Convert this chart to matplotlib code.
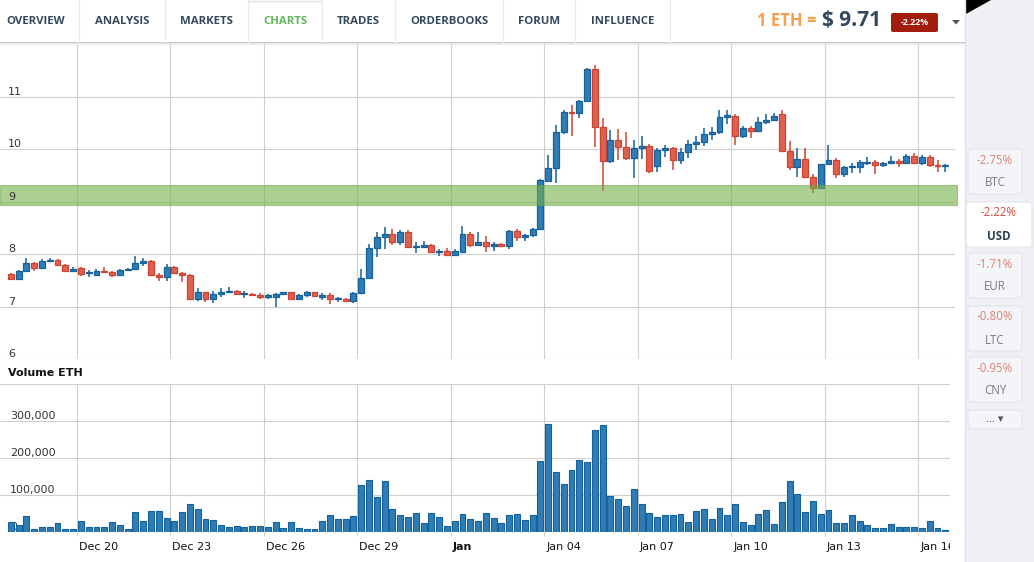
import numpy as np
import matplotlib
matplotlib.use('Agg')
import matplotlib.pyplot as plt
import matplotlib.transforms as mtrans
from matplotlib.patches import Rectangle, Polygon, FancyBboxPatch

W, H = 1034, 562

# 6h candles, ETH/USD, 2016-12-17 18:00 .. 2017-01-16 18:00
opens = [7.62, 7.53, 7.67, 7.83, 7.74, 7.86, 7.89, 7.79, 7.68, 7.73,
         7.63, 7.60, 7.68, 7.65, 7.60, 7.69, 7.71, 7.83, 7.87, 7.60,
         7.56, 7.75, 7.64, 7.60, 7.15, 7.27, 7.15, 7.23, 7.27, 7.29,
         7.23, 7.24, 7.22, 7.19, 7.19, 7.24, 7.27, 7.15, 7.21, 7.27,
         7.19, 7.21, 7.14, 7.15, 7.10, 7.26, 7.55, 8.11, 8.32, 8.39,
         8.22, 8.41, 8.14, 8.14, 8.17, 8.04, 8.05, 7.99, 8.04, 8.39,
         8.18, 8.22, 8.16, 8.19, 8.16, 8.43, 8.33, 8.37, 8.47, 9.40,
         9.63, 10.33, 10.71, 10.69, 10.92, 11.52, 10.42, 9.77, 10.17, 10.04,
         9.83, 10.02, 10.06, 9.67, 9.98, 10.02, 9.79, 9.94, 10.10, 10.14,
         10.29, 10.33, 10.61, 10.63, 10.24, 10.40, 10.35, 10.52, 10.56, 10.67,
         9.96, 9.66, 9.80, 9.46, 9.25, 9.71, 9.79, 9.52, 9.65, 9.65,
         9.74, 9.75, 9.69, 9.73, 9.77, 9.73, 9.87, 9.73, 9.85, 9.69,
         9.67]
highs = [7.63, 7.69, 7.92, 7.85, 7.90, 7.92, 7.90, 7.81, 7.76, 7.76,
         7.69, 7.71, 7.75, 7.67, 7.71, 7.74, 7.97, 7.92, 7.89, 7.63,
         7.81, 7.78, 7.66, 7.61, 7.35, 7.28, 7.30, 7.35, 7.38, 7.31,
         7.30, 7.26, 7.25, 7.24, 7.26, 7.28, 7.28, 7.24, 7.29, 7.28,
         7.26, 7.26, 7.19, 7.17, 7.28, 7.71, 8.20, 8.41, 8.51, 8.47,
         8.45, 8.45, 8.22, 8.24, 8.20, 8.10, 8.11, 8.09, 8.54, 8.42,
         8.41, 8.34, 8.22, 8.21, 8.46, 8.47, 8.39, 8.50, 9.42, 9.88,
         10.45, 10.75, 10.83, 10.94, 11.54, 11.60, 10.60, 10.37, 10.38, 10.33,
         10.17, 10.24, 10.10, 10.02, 10.08, 10.03, 10.01, 10.17, 10.25, 10.40,
         10.42, 10.74, 10.74, 10.67, 10.43, 10.43, 10.61, 10.67, 10.69, 10.75,
         10.15, 10.02, 10.02, 9.52, 9.72, 10.08, 9.83, 9.68, 9.74, 9.79,
         9.85, 9.79, 9.75, 9.87, 9.81, 9.90, 9.92, 9.89, 9.89, 9.79,
         9.72]
lows = [7.52, 7.52, 7.66, 7.68, 7.72, 7.84, 7.78, 7.65, 7.66, 7.58,
        7.56, 7.58, 7.63, 7.57, 7.59, 7.67, 7.69, 7.78, 7.58, 7.48,
        7.49, 7.63, 7.46, 7.13, 7.11, 7.09, 7.06, 7.19, 7.26, 7.21,
        7.17, 7.20, 7.15, 7.15, 7.00, 7.21, 7.13, 7.13, 7.19, 7.19,
        7.13, 7.04, 7.09, 7.09, 7.06, 7.23, 7.53, 7.95, 8.09, 8.18,
        8.18, 8.13, 8.01, 8.13, 8.01, 7.97, 7.97, 7.97, 8.03, 8.13,
        8.16, 8.04, 8.06, 8.13, 8.09, 8.24, 8.24, 8.32, 8.45, 9.38,
        9.36, 10.28, 10.24, 10.60, 10.92, 10.03, 9.20, 9.73, 9.79, 9.79,
        9.44, 9.81, 9.54, 9.57, 9.84, 9.60, 9.71, 9.83, 9.98, 10.06,
        10.17, 10.28, 10.47, 10.08, 10.21, 10.21, 10.34, 10.47, 10.54, 9.94,
        9.60, 9.47, 9.45, 9.17, 9.24, 9.70, 9.44, 9.47, 9.54, 9.54,
        9.69, 9.52, 9.65, 9.71, 9.65, 9.71, 9.71, 9.70, 9.66, 9.57,
        9.57]
closes = [7.53, 7.67, 7.83, 7.74, 7.87, 7.89, 7.79, 7.67, 7.72, 7.62,
          7.65, 7.67, 7.65, 7.60, 7.70, 7.72, 7.83, 7.87, 7.60, 7.56,
          7.75, 7.64, 7.60, 7.15, 7.27, 7.15, 7.24, 7.28, 7.29, 7.23,
          7.24, 7.21, 7.19, 7.20, 7.23, 7.27, 7.15, 7.21, 7.27, 7.20,
          7.21, 7.15, 7.15, 7.10, 7.26, 7.55, 8.11, 8.32, 8.39, 8.22,
          8.41, 8.14, 8.16, 8.17, 8.04, 8.06, 7.99, 8.05, 8.39, 8.18,
          8.22, 8.16, 8.19, 8.16, 8.43, 8.33, 8.37, 8.47, 9.40, 9.63,
          10.33, 10.71, 10.69, 10.92, 11.52, 10.42, 9.77, 10.17, 10.04, 9.83,
          10.02, 10.06, 9.58, 9.98, 10.02, 9.79, 9.94, 10.10, 10.14, 10.29,
          10.33, 10.61, 10.64, 10.24, 10.40, 10.35, 10.52, 10.56, 10.63, 9.96,
          9.66, 9.80, 9.46, 9.26, 9.71, 9.79, 9.52, 9.65, 9.67, 9.75,
          9.75, 9.69, 9.73, 9.77, 9.73, 9.86, 9.73, 9.85, 9.69, 9.67,
          9.70]
volumes_k = [28, 20, 44, 9, 14, 14, 24, 9, 9, 30,
             14, 14, 14, 28, 20, 9, 54, 30, 57, 57,
             38, 30, 54, 76, 62, 36, 33, 20, 14, 17,
             14, 17, 17, 14, 28, 12, 28, 12, 9, 9,
             30, 46, 36, 36, 44, 127, 140, 95, 138, 62,
             46, 41, 52, 25, 52, 41, 17, 30, 49, 36,
             30, 52, 38, 25, 46, 49, 33, 46, 191, 293,
             162, 129, 167, 194, 188, 277, 290, 97, 89, 71,
             116, 76, 52, 41, 46, 46, 49, 28, 57, 62,
             36, 65, 46, 76, 28, 20, 49, 60, 22, 81,
             138, 103, 54, 84, 49, 60, 25, 25, 46, 30,
             20, 12, 12, 22, 14, 14, 14, 12, 30, 12,
             6]

tick_dates = ['2016-12-20', '2016-12-23', '2016-12-26', '2016-12-29', '2017-01-01',
              '2017-01-04', '2017-01-07', '2017-01-10', '2017-01-13', '2017-01-16']
tick_labels = ['Dec 20', 'Dec 23', 'Dec 26', 'Dec 29', 'Jan',
               'Jan 04', 'Jan 07', 'Jan 10', 'Jan 13', 'Jan 16']
price_ticks = [6, 7, 8, 9, 10, 11]
vol_ticks = [0, 100000, 200000, 300000]
vol_labels = ['0', '100,000', '200,000', '300,000']
band = (8.94, 9.32)  # highlighted price zone

tabs = ['OVERVIEW', 'ANALYSIS', 'MARKETS', 'CHARTS', 'TRADES', 'ORDERBOOKS', 'FORUM', 'INFLUENCE']
currencies = ['BTC', 'USD', 'EUR', 'LTC', 'CNY']
changes = ['-2.75%', '-2.22%', '-1.71%', '-0.80%', '-0.95%']

# ---- x positions (days after Dec 20), candle centred in its 6h slot
origin = np.datetime64('2016-12-20T00:00')
times = np.datetime64('2016-12-17T18:00') + np.arange(len(opens)) * np.timedelta64(6, 'h')
x = (times - origin) / np.timedelta64(1, 'D') + 0.125
tick_x = (np.array(tick_dates, dtype='datetime64[m]') - origin) / np.timedelta64(1, 'D')

o = np.array(opens); c = np.array(closes)
hi = np.array(highs); lo = np.array(lows)
vol = np.array(volumes_k) * 1000

DAY_PX = 31.15
X0_PX = 77.0


def px(x0, y0, x1, y1):
    return [x0 / W, 1 - y1 / H, (x1 - x0) / W, (y1 - y0) / H]


def xlim_for(right_px):
    return (-X0_PX / DAY_PX, (right_px - X0_PX) / DAY_PX)


fig = plt.figure(figsize=(W / 100, H / 100), dpi=100)
fig.patch.set_facecolor('white')

# ---- background / page furniture in pixel coords
bg = fig.add_axes([0, 0, 1, 1], zorder=0)
bg.set_xlim(0, W); bg.set_ylim(H, 0); bg.axis('off')

bg.add_patch(Rectangle((965, 0), W - 965, H, color='#eef0f4', lw=0))
bg.plot([964.5, 964.5], [0, H], color='#dfe2e7', lw=1)
bg.add_patch(Polygon([(966, 0), (991, 0), (966, 14)], closed=True, color='black', lw=0))

# nav bar
bg.plot([0, 965], [42.5, 42.5], color='#c9c9c9', lw=1.4)
bg.plot([0, 965], [44.2, 44.2], color='#ececec', lw=1.2)
tab_edges = [-7, 79, 165, 248, 322, 395, 503, 575, 670]
for i, name in enumerate(tabs):
    cx = (tab_edges[i] + tab_edges[i + 1]) / 2
    col = '#62b55c' if name == 'CHARTS' else '#34495e'
    bg.text(cx, 21.5, name, ha='center', va='center', fontsize=8.2,
            fontweight='bold', family='Open Sans', color=col)
for e in tab_edges[1:]:
    bg.plot([e, e], [0, 42], color='#ebebeb', lw=1)
bg.plot([249, 321], [0.8, 0.8], color='#dbe3ea', lw=1)

bg.text(757, 21, '1 ETH =', ha='left', va='center', fontsize=12, fontweight='bold',
        family='Open Sans', color='#f4a04e')
bg.text(822, 20.5, '$ 9.71', ha='left', va='center', fontsize=15, fontweight='bold',
        family='Open Sans', color='#34495e')
bg.add_patch(FancyBboxPatch((891, 13), 47, 19, boxstyle='round,pad=0,rounding_size=2',
                            color='#a31c0e', lw=0))
bg.text(914.5, 22.5, '-2.22%', ha='center', va='center', fontsize=6.3, fontweight='bold',
        family='Open Sans', color='white')
bg.add_patch(Polygon([(952, 20), (960, 20), (956, 24.5)], closed=True, color='#555555', lw=0))

# sidebar
box_tops = [149, 202, 253, 306, 357]
for i, cur in enumerate(currencies):
    sel = cur == 'USD'
    y0 = box_tops[i]
    if sel:
        bg.add_patch(FancyBboxPatch((966, y0), 66, 45, boxstyle='round,pad=0,rounding_size=3',
                                    fc='white', ec='#e3e5e9', lw=0.8))
        cx = 999
    else:
        bg.add_patch(FancyBboxPatch((968, y0), 54, 45, boxstyle='round,pad=0,rounding_size=3',
                                    fc='#f4f5f8', ec='#e3e5e9', lw=0.8))
        cx = 995
    bg.text(cx, y0 + 11, changes[i], ha='center', va='center', fontsize=8.3,
            family='Open Sans', color='#d9453a' if sel else '#e07f75')
    bg.text(cx, y0 + 34, cur, ha='center', va='center', fontsize=8.3,
            family='Open Sans', fontweight='bold' if sel else 'normal',
            color='#2c3e50' if sel else '#7a7a7a')
bg.add_patch(FancyBboxPatch((968, 410), 54, 19, boxstyle='round,pad=0,rounding_size=3',
                            fc='#f4f5f8', ec='#e3e5e9', lw=0.8))
bg.text(995, 419.5, '... \u25be', ha='center', va='center', fontsize=8,
        family=['Open Sans', 'DejaVu Sans'], color='#555555')

# ---- price panel
GRID = '#cfcfcf'
UP_FC, UP_EC = '#2f7db4', '#15619b'
DN_FC, DN_EC = '#e0604f', '#cf4330'

ax = fig.add_axes(px(0, 44, 955, 359), zorder=1)
ax.patch.set_alpha(0)
ax.set_xlim(*xlim_for(955)); ax.set_ylim(6, 12)
ax.axis('off')
ax.hlines(price_ticks, *ax.get_xlim(), color=GRID, lw=0.8, zorder=1)
ax.vlines(tick_x, 6, 12, color=GRID, lw=0.8, zorder=1)

up = c >= o
fcs = np.where(up, UP_FC, DN_FC)
ecs = np.where(up, UP_EC, DN_EC)
ax.vlines(x, lo, hi, colors=ecs, lw=1.1, zorder=2)
body_lo = np.minimum(o, c)
body_h = np.maximum(np.abs(c - o), 0.02)
ax.bar(x, body_h, bottom=body_lo, width=0.19, color=fcs, edgecolor=ecs, lw=0.9, zorder=3)

bx0, bx1 = xlim_for(957)
ax.add_patch(Rectangle((bx0, band[0]), bx1 - bx0, band[1] - band[0],
                       fc=(0.46, 0.69, 0.29, 0.6), ec=(0.40, 0.62, 0.25, 0.5), lw=0.8,
                       zorder=4, clip_on=False))

tr = mtrans.blended_transform_factory(ax.transAxes, ax.transData)
for v in price_ticks:
    ax.text(8 / 955, v + 0.035, str(v), transform=tr, ha='left', va='baseline',
            fontsize=8, color='#333333', zorder=5)

# ---- volume panel
axv = fig.add_axes(px(0, 384, 950, 532), zorder=1)
axv.patch.set_alpha(0)
axv.set_xlim(*xlim_for(950)); axv.set_ylim(0, 400000)
axv.axis('off')
axv.hlines([100000, 200000, 300000, 400000], *axv.get_xlim(), color=GRID, lw=0.8, zorder=1)
axv.vlines(tick_x, -12000, 400000, color=GRID, lw=0.8, zorder=1, clip_on=False)

trv = mtrans.blended_transform_factory(axv.transAxes, axv.transData)
for v, lab in zip(vol_ticks, vol_labels):
    axv.text(10 / 950, v + 4500, lab, transform=trv, ha='left', va='baseline',
             fontsize=8, color='#333333', zorder=1)

axv.bar(x, vol, width=0.19, color='#2f7db4', edgecolor='#15619b', lw=0.8, zorder=3)

bg.text(8, 373, 'Volume ETH', ha='left', va='center', fontsize=8, fontweight='bold',
        color='#111111')

trx = mtrans.blended_transform_factory(axv.transData, axv.transAxes)
clip = mtrans.TransformedBbox(mtrans.Bbox([[0, -0.4], [1, 1]]), axv.transAxes)
for tx, lab in zip(tick_x, tick_labels):
    t = axv.text(tx + 2 / DAY_PX, -15 / 148, lab, transform=trx, ha='left', va='center',
                 fontsize=8, color='#111111',
                 fontweight='bold' if lab == 'Jan' else 'normal')
    t.set_clip_box(clip)
    t.set_clip_on(True)

fig.savefig('out.png', dpi=100)
